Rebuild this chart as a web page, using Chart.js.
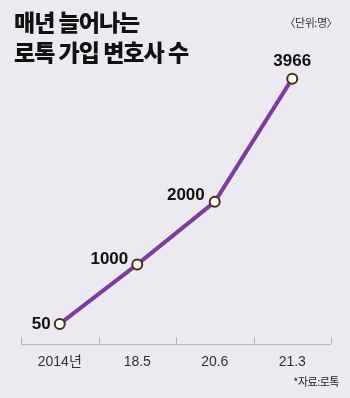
<!DOCTYPE html>
<html>
<head>
<meta charset="utf-8">
<script src="https://cdn.jsdelivr.net/npm/chart.js@4/dist/chart.umd.min.js"></script>
<style>
  html, body { margin: 0; padding: 0; background: #ece9f0; }
  #wrap { position: relative; width: 350px; height: 398px; background: #ece9f0; overflow: hidden; }
  #chart { position: absolute; left: 0; top: 0; }
  .title { position: absolute; left: 14px; font-family: "Noto Sans CJK KR", sans-serif; font-weight: 900; font-size: 23px; color: #111; letter-spacing: -1px; line-height: 1; }
  .unit { position: absolute; right: 13px; top: 14px; font-family: "Noto Sans CJK KR", sans-serif; font-size: 11px; color: #333; letter-spacing: -0.5px; }
  .source { position: absolute; right: 11px; top: 373px; font-family: "Noto Sans CJK KR", sans-serif; font-size: 11px; color: #222; letter-spacing: -0.5px; }
</style>
</head>
<body>
<div id="wrap">
  <canvas id="chart" width="350" height="398"></canvas>
  <div class="title" style="top:10px">매년 늘어나는</div>
  <div class="title" style="top:40px">로톡 가입 변호사 수</div>
  <div class="unit">〈단위:명〉</div>
  <div class="source">*자료:로톡</div>
</div>
<script>
"use strict";

var years = ["2014년", "18.5", "20.6", "21.3"];
var lawyers = [50, 1000, 2000, 3966];
// label placement per point
var labelSides = ["left", "left", "leftTop", "top"];

var valueLabels = {
  id: "valueLabels",
  afterDatasetsDraw: function(chart) {
    var ctx = chart.ctx;
    var meta = chart.getDatasetMeta(0);
    ctx.save();
    ctx.font = "bold 17px 'Liberation Sans Narrow', 'Liberation Sans', sans-serif";
    ctx.fillStyle = "#111";
    meta.data.forEach(function(pt, i) {
      var text = String(lawyers[i]);
      var side = labelSides[i];
      if (side === "top") {
        ctx.textAlign = "center";
        ctx.textBaseline = "bottom";
        ctx.fillText(text, pt.x, pt.y - 9);
      } else if (side === "leftTop") {
        ctx.textAlign = "right";
        ctx.textBaseline = "middle";
        ctx.fillText(text, pt.x - 10, pt.y - 6);
      } else {
        ctx.textAlign = "right";
        ctx.textBaseline = "middle";
        ctx.fillText(text, pt.x - 9, pt.y - (i === 0 ? 0 : 5));
      }
    });
    ctx.restore();
  }
};

// small tick marks pointing up from the x axis, between categories
var upTicks = {
  id: "upTicks",
  afterDraw: function(chart) {
    var xs = chart.scales.x;
    var ctx = chart.ctx;
    var step = xs.getPixelForValue(1) - xs.getPixelForValue(0);
    var y = chart.chartArea.bottom;
    ctx.save();
    ctx.strokeStyle = "#b4aeb8";
    ctx.lineWidth = 1;
    ctx.beginPath();
    for (var i = 0; i <= years.length; i++) {
      var x = Math.round(xs.getPixelForValue(i) - step / 2) + 0.5;
      ctx.moveTo(x, y);
      ctx.lineTo(x, y - 7);
    }
    ctx.moveTo(xs.left, y + 0.5);
    ctx.lineTo(xs.right, y + 0.5);
    ctx.stroke();
    ctx.restore();
  }
};

new Chart(document.getElementById("chart"), {
  type: "line",
  data: {
    labels: years,
    datasets: [{
      data: lawyers,
      borderColor: "#7a3f9c",
      borderWidth: 4,
      pointRadius: 5,
      pointBorderWidth: 2,
      pointBackgroundColor: "#ffffff",
      pointBorderColor: "#4a2e14",
      tension: 0,
      clip: false
    }]
  },
  options: {
    responsive: false,
    animation: false,
    layout: { padding: { left: 21, right: 19, top: 60, bottom: 17 } },
    plugins: {
      legend: { display: false },
      tooltip: { enabled: false }
    },
    scales: {
      x: {
        offset: true,
        grid: { display: false, drawTicks: false },
        border: { display: false },
        ticks: {
          padding: 10,
          color: "#333",
          font: { family: "'Liberation Sans', 'Noto Sans CJK KR', sans-serif", size: 14 }
        }
      },
      y: {
        display: false,
        min: -274,
        max: 4264
      }
    }
  },
  plugins: [valueLabels, upTicks]
});
</script>
</body>
</html>
